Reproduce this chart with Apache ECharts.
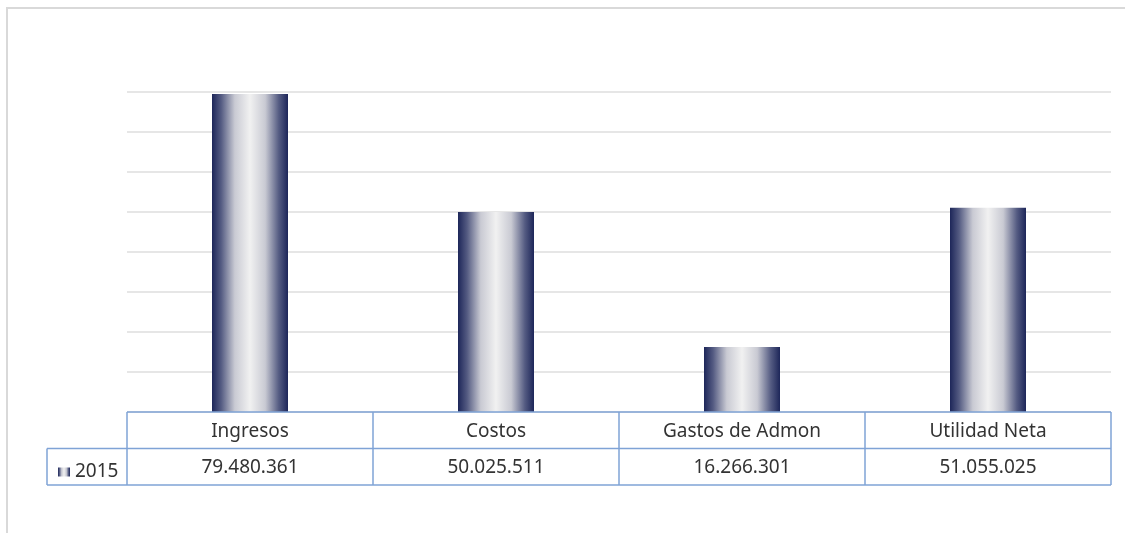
<!DOCTYPE html>
<html>
<head>
<meta charset="utf-8">
<script src="https://cdn.jsdelivr.net/npm/echarts@6/dist/echarts.min.js"></script>
<style>
  html, body { margin: 0; padding: 0; background: #fff; }
  #chart { width: 1125px; height: 533px; }
</style>
</head>
<body>
<div id="chart"></div>
<script>
// Values
const categories = ["Ingresos", "Costos", "Gastos de Admon", "Utilidad Neta"];
const values2015 = [79480361, 50025511, 16266301, 51055025];
const seriesName = "2015";

// layout of the plot area / data table
const gridLeft = 127;
const gridRight = 1111;
const gridTop = 92;
const axisY = 412;
const rowH = 36.5;
const legendCellLeft = 47;
const tableColor = "#7fa3d6";
const textColor = "#333333";
const font = "'Noto Sans', 'Open Sans', sans-serif";
const fontSize = 19;

// 79480361 -> "79.480.361"
function fmt(v) {
  return String(v).replace(/\B(?=(\d{3})+(?!\d))/g, ".");
}

const barGradient = new echarts.graphic.LinearGradient(0, 0, 1, 0, [
  { offset: 0, color: "#1d2659" },
  { offset: 0.12, color: "#545b82" },
  { offset: 0.3, color: "#c9cad3" },
  { offset: 0.5, color: "#f1f1f1" },
  { offset: 0.7, color: "#c9cad3" },
  { offset: 0.88, color: "#545b82" },
  { offset: 1, color: "#1d2659" },
]);

const chart = echarts.init(document.getElementById("chart"));

// table lines
const row1 = axisY + rowH;
const row2 = axisY + rowH * 2;
const colW = (gridRight - gridLeft) / categories.length;
const lines = [];
function hline(x1, x2, y) {
  lines.push({ type: "line", shape: { x1, y1: y, x2, y2: y }, style: { stroke: tableColor, lineWidth: 1.5 }, z: 10 });
}
function vline(x, y1, y2) {
  lines.push({ type: "line", shape: { x1: x, y1, x2: x, y2 }, style: { stroke: tableColor, lineWidth: 1.5 }, z: 10 });
}
hline(gridLeft, gridRight, axisY);
hline(legendCellLeft, gridRight, row1);
hline(legendCellLeft, gridRight, row2);
vline(legendCellLeft, row1, row2);
for (let i = 0; i <= categories.length; i++) {
  vline(gridLeft + colW * i, axisY, row2);
}

chart.setOption({
  animation: false,
  backgroundColor: "#ffffff",
  grid: {
    left: gridLeft,
    right: 1125 - gridRight,
    top: gridTop,
    bottom: 533 - axisY,
  },
  legend: {
    left: 53,
    top: row1 + 9,
    itemWidth: 12,
    itemHeight: 9,
    itemGap: 4,
    icon: "rect",
    textStyle: { color: textColor, fontFamily: font, fontSize: fontSize, padding: [2, 0, 0, 0] },
    data: [seriesName],
  },
  xAxis: [
    {
      type: "category",
      data: categories,
      axisLine: { show: false },
      axisTick: { show: false },
      axisLabel: { color: textColor, fontFamily: font, fontSize: fontSize, margin: 10 },
    },
    {
      type: "category",
      data: categories,
      position: "bottom",
      offset: rowH,
      axisLine: { show: false },
      axisTick: { show: false },
      axisLabel: {
        color: textColor,
        fontFamily: font,
        fontSize: fontSize,
        margin: 10,
        formatter: (v, i) => fmt(values2015[i]),
      },
    },
  ],
  yAxis: {
    type: "value",
    min: 0,
    max: 80000000,
    interval: 10000000,
    axisLabel: { show: false },
    axisLine: { show: false },
    axisTick: { show: false },
    splitLine: { lineStyle: { color: "#dedede", width: 1.5 } },
  },
  series: [
    {
      name: seriesName,
      type: "bar",
      data: values2015,
      barWidth: 76,
      itemStyle: { color: barGradient },
    },
  ],
  graphic: [
    {
      type: "rect",
      shape: { x: 7, y: 8, width: 1200, height: 600 },
      style: { fill: null, stroke: "#d9d9d9", lineWidth: 2 },
      silent: true,
    },
    ...lines,
  ],
});
</script>
</body>
</html>
